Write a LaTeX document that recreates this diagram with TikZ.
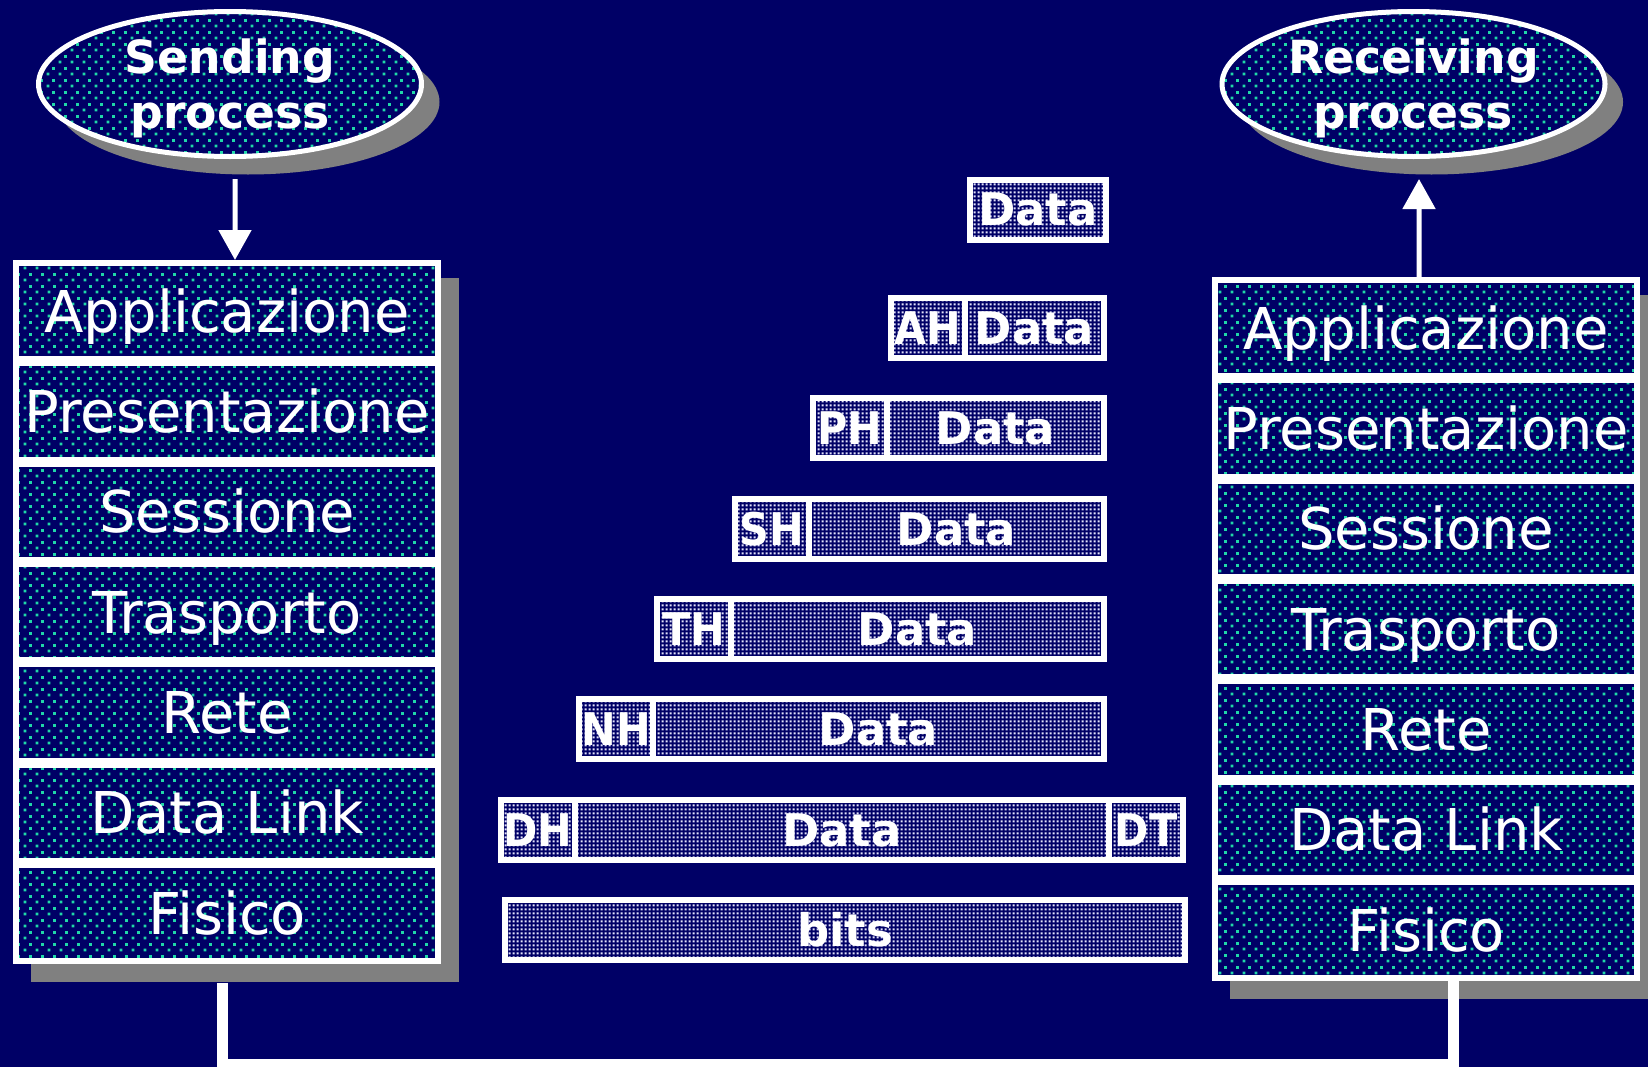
\documentclass[tikz,border=0pt]{standalone}
\usepackage{fontspec}
\setmainfont{DejaVu Sans}
\newfontfamily\hdrfont[FakeStretch=0.92]{DejaVu Sans}
\usepackage{tikz}
\usetikzlibrary{shapes,arrows.meta,positioning,fit,calc,backgrounds,shadows,patterns}
\usepackage{xcolor}
\definecolor{navycolor}{RGB}{0, 0, 102}
\definecolor{dotcolor}{RGB}{32, 216, 168}
\definecolor{gridcolor}{RGB}{225, 225, 250}
\definecolor{shadowcolor}{RGB}{128, 128, 128}

\pgfdeclarelayer{backdrop}
\pgfsetlayers{backdrop,background,main}

% sparse staggered dots for the layers and the processes
\pgfdeclarepatternformonly{tealdots}{\pgfpointorigin}{\pgfqpoint{3.27pt}{3.27pt}}{\pgfqpoint{3.27pt}{3.27pt}}{
    \pgfpathrectangle{\pgfqpoint{0.2pt}{0.2pt}}{\pgfqpoint{0.8pt}{0.8pt}}
    \pgfpathrectangle{\pgfqpoint{1.835pt}{1.835pt}}{\pgfqpoint{0.8pt}{0.8pt}}
    \pgfusepath{fill}
}
% dense grid for the packets
\pgfdeclarepatternformonly{finegrid}{\pgfpointorigin}{\pgfqpoint{1.14pt}{1.14pt}}{\pgfqpoint{1.14pt}{1.14pt}}{
    \pgfpathrectangle{\pgfqpoint{0.2pt}{0.2pt}}{\pgfqpoint{0.7pt}{0.7pt}}
    \pgfusepath{fill}
}

\begin{document}
\begin{tikzpicture}[
    x=0.1mm, y=-0.1mm,
    every node/.style={text=white},
    node distance=0.4mm,
    proc/.style={ellipse, draw=white, line width=0.5mm,
        drop shadow={shadow xshift=1.8mm, shadow yshift=-1.8mm, fill=shadowcolor, opacity=1},
        preaction={fill=navycolor}, pattern=tealdots, pattern color=dotcolor,
        minimum width=38.3mm, minimum height=14.5mm, inner sep=0, align=center,
        font=\fontsize{13}{15.6}\selectfont\bfseries, text depth=0pt},
    layer/.style={rectangle, draw=white, line width=0.6mm,
        preaction={fill=navycolor}, pattern=tealdots, pattern color=dotcolor,
        minimum width=42.2mm, minimum height=9.63mm, inner sep=0, outer sep=0,
        font=\fontsize{16.4}{19}\selectfont, text height=12pt, text depth=0pt},
    pay/.style={rectangle, draw=white, line width=0.6mm,
        preaction={fill=navycolor}, pattern=finegrid, pattern color=gridcolor,
        minimum height=6mm, inner sep=0, outer sep=0,
        font=\fontsize{12.8}{15}\selectfont\bfseries, text height=9.3pt, text depth=0pt},
    hdr/.style={pay, minimum width=7.4mm, font=\hdrfont\fontsize{12.8}{15}\selectfont\bfseries},
    stackshadow/.style={fill=shadowcolor, inner sep=0.3mm, xshift=1.8mm, yshift=-1.8mm},
    flow/.style={draw=white, line width=0.5mm, -{Triangle[length=3mm, width=3.2mm]}},
    bus/.style={draw=white, line width=1.1mm}
]
    \begin{pgfonlayer}{backdrop}
        \fill[navycolor] (0,0) rectangle (1648,1067);
    \end{pgfonlayer}
    \useasboundingbox (0,0) rectangle (1648,1067);

    % Processes
    \node[proc] (sending) at (230,84) {Sending\\process};
    \node[proc] (receiving) at (1413.5,84) {Receiving\\process};

    % Sending stack
    \node[layer, anchor=north west] (ls1) at (16,263) {Applicazione};
    \node[layer, below=of ls1] (ls2) {Presentazione};
    \node[layer, below=of ls2] (ls3) {Sessione};
    \node[layer, below=of ls3] (ls4) {Trasporto};
    \node[layer, below=of ls4] (ls5) {Rete};
    \node[layer, below=of ls5] (ls6) {Data Link};
    \node[layer, below=of ls6] (ls7) {Fisico};

    % Receiving stack
    \node[layer, anchor=north west] (rs1) at (1215,280) {Applicazione};
    \node[layer, below=of rs1] (rs2) {Presentazione};
    \node[layer, below=of rs2] (rs3) {Sessione};
    \node[layer, below=of rs3] (rs4) {Trasporto};
    \node[layer, below=of rs4] (rs5) {Rete};
    \node[layer, below=of rs5] (rs6) {Data Link};
    \node[layer, below=of rs6] (rs7) {Fisico};

    % Shadows behind the stacks
    \begin{scope}[on background layer]
        \node[stackshadow, fit=(ls1)(ls7)] (lshadow) {};
        \node[stackshadow, fit=(rs1)(rs7)] (rshadow) {};
    \end{scope}

    % Packets
    \node[pay, minimum width=13.6mm] (pay0) at (1038,209.5) {Data};
    \foreach \hd [count=\i] in {AH,PH,SH,TH,NH} {
        \pgfmathsetmacro{\w}{13.9+7.8*(\i-1)}
        \node[pay, minimum width=\w mm, anchor=east] (pay\i) at (rs\i -| 1104,0) {Data};
        \node[hdr, anchor=east] (hdr\i) at (pay\i.west) {\hd};
    }
    \node[pay, minimum width=53.4mm, anchor=west] (pay6) at (rs6 -| 575,0) {Data};
    \node[hdr, anchor=east] (hdr6) at (pay6.west) {DH};
    \node[hdr, anchor=west] (trl6) at (pay6.east) {DT};
    \node[pay, minimum width=68mm] (bits) at (rs7 -| 845,0) {bits};

    % Arrows
    \draw[flow] ($(sending.south)+(5,20)$) -- ($(ls1.north)+(8,-3)$);
    \draw[flow] ($(rs1.north)+(-7,-3)$) -- ($(receiving.south)+(5.5,20)$);

    % Physical link
    \coordinate (busL) at (222,1064);
    \coordinate (busR) at (1453,1064);
    \draw[bus] (lshadow.south -| busL) -- (busL) -- (busR) -- (rs7.south -| busR);
\end{tikzpicture}
\end{document}
